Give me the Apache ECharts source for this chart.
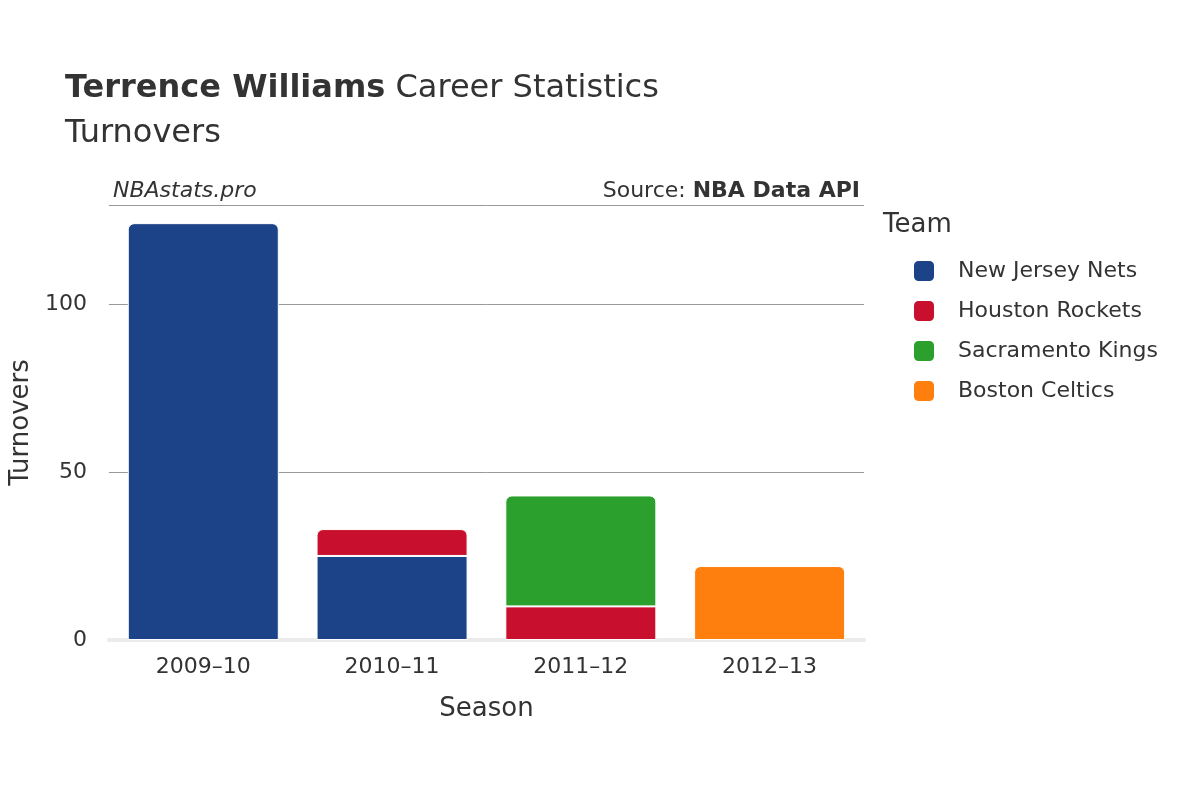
<!DOCTYPE html><html><head><meta charset="utf-8"><script src="https://cdn.jsdelivr.net/npm/echarts@6/dist/echarts.min.js"></script></head><body style="margin:0"><div id="c" style="width:1200px;height:800px"></div><script>
const seasons=['2009–10','2010–11','2011–12','2012–13'];
const teams=['New Jersey Nets','Houston Rockets','Sacramento Kings','Boston Celtics'];
const colors=['#1c4387','#c8102e','#2ca02c','#ff7f0e'];
const values=[[124,25,null,null],[null,8,10,null],[null,null,33,null],[null,null,null,22]];
const yTicks=[0,50,100];
const F='"DejaVu Sans", sans-serif';
const topIdx=seasons.map((s,i)=>{let t=-1;values.forEach((v,k)=>{if(v[i]!=null)t=k});return t;});
const chart=echarts.init(document.getElementById('c'));
chart.setOption({
 textStyle:{fontFamily:F},
 title:[{text:'{b|Terrence Williams} Career Statistics',left:60,top:68,textStyle:{fontSize:32,color:'#333',fontWeight:'normal',fontFamily:F,rich:{b:{fontSize:32,fontWeight:'bold',color:'#333',fontFamily:F}}}},
 {text:'Turnovers',left:60,top:113,textStyle:{fontSize:32,color:'#333',fontWeight:'normal',fontFamily:F}}],
 graphic:[{type:'text',left:113,top:180,style:{text:'NBAstats.pro',font:'italic 22px '+F,fill:'#333'}},
 {type:'text',right:340,top:180,style:{text:'{a|Source: }{b|NBA Data API}',rich:{a:{font:'22px '+F,fill:'#333'},b:{font:'bold 22px '+F,fill:'#333'}}}},
 {type:'text',left:883,top:212,style:{text:'Team',font:'26px '+F,fill:'#333'}}],
 legend:{orient:'vertical',left:907,top:254,itemWidth:22,itemHeight:22,itemGap:16,icon:'roundRect',textStyle:{fontSize:22,color:'#333',padding:[0,0,0,18]},data:teams},
 grid:{left:108,right:336,top:205,bottom:160},
 xAxis:{type:'category',data:seasons,name:'Season',nameLocation:'middle',nameGap:56,nameTextStyle:{fontSize:26,color:'#333'},axisTick:{show:false},axisLine:{lineStyle:{color:'#ebebeb',width:4}},axisLabel:{fontSize:22,color:'#333',margin:16}},
 yAxis:{type:'value',min:0,max:129.4,interval:50,name:'Turnovers',nameLocation:'middle',nameGap:70,nameTextStyle:{fontSize:26,color:'#333'},axisLabel:{fontSize:22,color:'#333',margin:22,formatter:v=>yTicks.includes(v)?v:''},splitLine:{lineStyle:{color:'#999'}},axisLine:{show:false}},
 series:teams.map((t,k)=>({name:t,type:'bar',stack:'s',barCategoryGap:'20%',itemStyle:{color:colors[k],borderColor:'#fff',borderWidth:1},
  data:values[k].map((v,i)=>({value:v,itemStyle:{borderRadius:topIdx[i]===k?[6,6,0,0]:0}}))}))
});
</script></body></html>
